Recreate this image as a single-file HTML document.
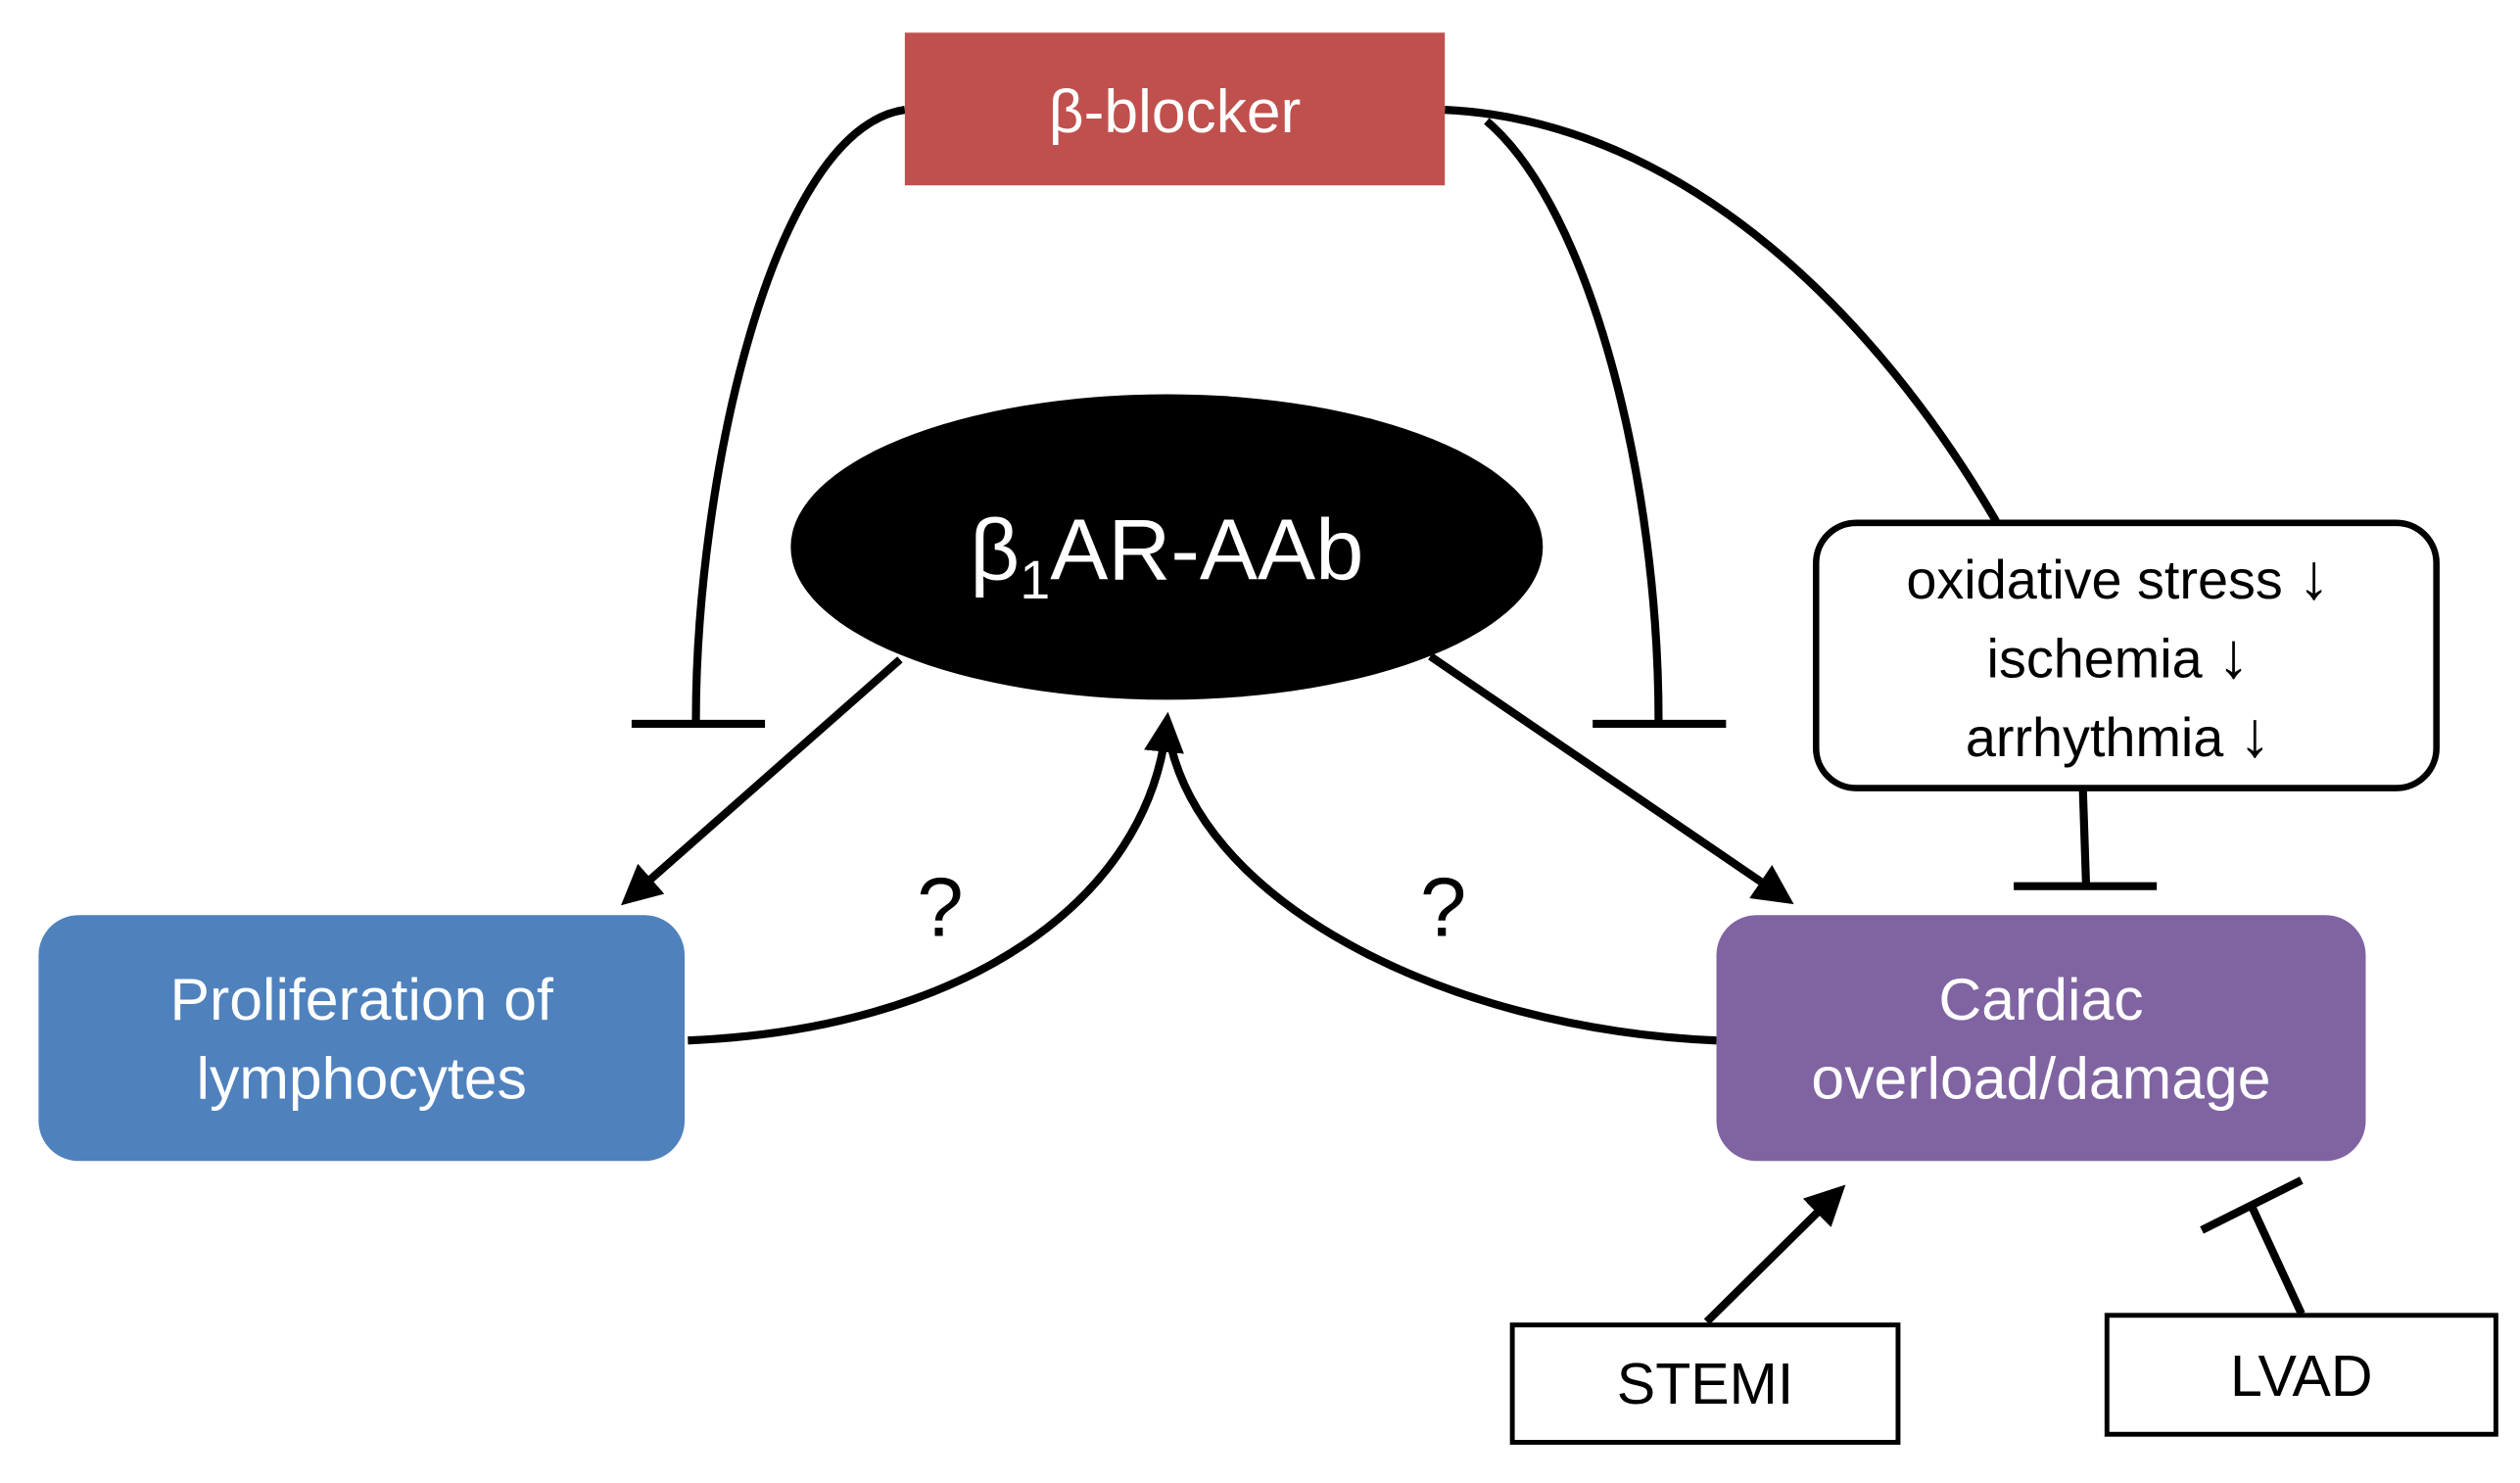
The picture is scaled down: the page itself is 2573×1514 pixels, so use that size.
<!DOCTYPE html>
<html><head><meta charset="utf-8"><style>
html,body{margin:0;padding:0;background:#fff;}
svg{display:block;}
text{font-family:"Liberation Sans","DejaVu Sans",sans-serif;}
</style></head><body>
<svg width="2573" height="1514" viewBox="0 0 1568 922" xmlns="http://www.w3.org/2000/svg">
<defs>
<marker id="ah" markerWidth="5" markerHeight="5" refX="3.5" refY="2.5" orient="auto" markerUnits="strokeWidth">
<path d="M0,0 L5,2.5 L0,5 Z" fill="#000"/>
</marker>
</defs>
<g fill="none" stroke="#000" stroke-width="5">
<path d="M563,68 C480,80 433,300 433,448"/>
<line x1="393" y1="450" x2="476" y2="450"/>
<path d="M925,75 C990,130 1032,300 1032,448"/>
<line x1="991" y1="450" x2="1074" y2="450"/>
<path d="M899,68 C1050,75 1170,200 1242,324"/>
<line x1="560" y1="410" x2="392" y2="558" marker-end="url(#ah)"/>
<line x1="890" y1="408" x2="1110" y2="558" marker-end="url(#ah)"/>
<path d="M428,647 C600,640 715,560 726,450" marker-end="url(#ah)"/>
<path d="M1068,647 C900,640 740,560 726,450"/>
<path d="M1296,490 L1298,550"/>
<line x1="1253" y1="551" x2="1342" y2="551"/>
<line x1="1062" y1="822" x2="1143" y2="742" marker-end="url(#ah)"/>
<line x1="1432" y1="817" x2="1401" y2="750"/>
<line x1="1370" y1="765" x2="1432" y2="734"/>
</g>
<rect x="563" y="20" width="336" height="95" fill="#C0504D"/>
<text x="731" y="82" font-size="38" fill="#fff" text-anchor="middle">β-blocker</text>
<ellipse cx="726" cy="340" rx="234" ry="95" fill="#000"/>
<text x="726" y="360" font-size="54" fill="#fff" text-anchor="middle">β<tspan font-size="34" dy="12">1</tspan><tspan dy="-12">AR-AAb</tspan></text>
<rect x="24" y="569" width="402" height="153" rx="25" fill="#4F81BD"/>
<text x="225" y="634" font-size="37" fill="#fff" text-anchor="middle">Proliferation of</text>
<text x="225" y="683" font-size="37" fill="#fff" text-anchor="middle">lymphocytes</text>
<rect x="1068" y="569" width="404" height="153" rx="25" fill="#8064A2"/>
<text x="1270" y="634" font-size="37" fill="#fff" text-anchor="middle">Cardiac</text>
<text x="1270" y="683" font-size="37" fill="#fff" text-anchor="middle">overload/damage</text>
<rect x="1130" y="325" width="386" height="165" rx="25" fill="#fff" stroke="#000" stroke-width="4"/>
<text x="1318" y="372" font-size="34" text-anchor="middle">oxidative stress <tspan font-size="40">↓</tspan></text>
<text x="1318" y="421" font-size="34" text-anchor="middle">ischemia  <tspan font-size="40">↓</tspan></text>
<text x="1318" y="470" font-size="34" text-anchor="middle">arrhythmia  <tspan font-size="40">↓</tspan></text>
<text x="585" y="582" font-size="52" text-anchor="middle">?</text>
<text x="898" y="582" font-size="52" text-anchor="middle">?</text>
<rect x="941" y="824" width="240" height="73" fill="#fff" stroke="#000" stroke-width="3"/>
<text x="1061" y="873" font-size="36" text-anchor="middle">STEMI</text>
<rect x="1311" y="818" width="242" height="74" fill="#fff" stroke="#000" stroke-width="3"/>
<text x="1432" y="868" font-size="36" text-anchor="middle">LVAD</text>
</svg>
</body></html>
